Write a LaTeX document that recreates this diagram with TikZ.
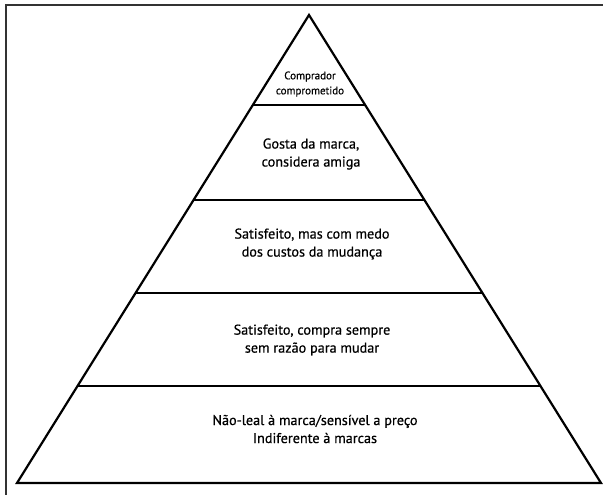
\documentclass[tikz,border=0pt]{standalone}
\usepackage{fontspec}
\setmainfont[FakeBold=0.6]{PT Sans}
\begin{document}
\begin{tikzpicture}[x=1pt,y=-1pt,
  edge/.style={line width=2.2pt,black,line join=miter},
  frame/.style={line width=2pt,black!80},
  lbl/.style={align=center,font=\fontsize{14.2}{18}\selectfont,inner sep=0pt},
  small/.style={align=center,font=\fontsize{11}{15}\selectfont,inner sep=0pt}]
\useasboundingbox (0,0) rectangle (603,495);
\draw[frame] (6,495) -- (6,5) -- (603,5);
\coordinate (apex) at (309,15);
\coordinate (bl) at (17,483);
\coordinate (br) at (601,483);
\draw[edge] (bl) -- (apex) -- (br) -- cycle;
% level lines
\foreach \y/\n in {105/a,200/b,293/c,386/d}{
  \path (apex) -- (bl) coordinate[pos={(\y-15)/468}] (L\n);
  \path (apex) -- (br) coordinate[pos={(\y-15)/468}] (R\n);
  \draw[edge] (L\n) -- (R\n);
}
\node[small] (t1) at (310,84) {Comprador\\comprometido};
\node[lbl] (t2) at (311,154) {Gosta da marca,\\considera amiga};
\node[lbl] (t3) at (312,244) {Satisfeito, mas com medo\\dos custos da mudança};
\node[lbl] (t4) at (312,340) {Satisfeito, compra sempre\\sem razão para mudar};
\node[lbl] (t5) at (315,429) {Não-leal à marca/sensível a preço\\Indiferente à marcas};
\end{tikzpicture}
\end{document}
